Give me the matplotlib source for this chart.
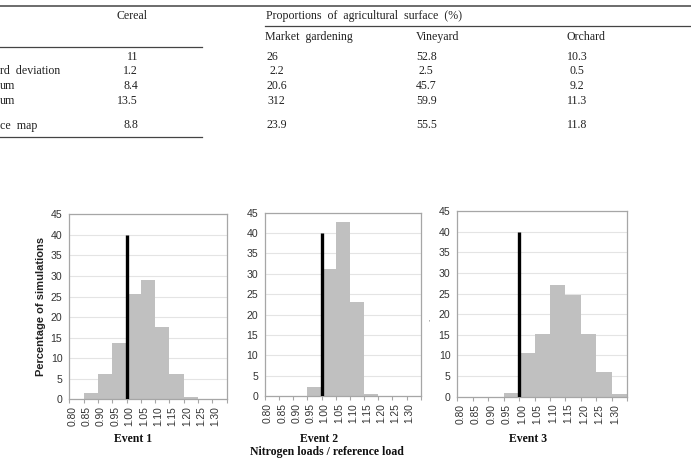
import numpy as np
import matplotlib
matplotlib.use("Agg")
import matplotlib.pyplot as plt
from matplotlib.transforms import ScaledTranslation

# ---------------- data ----------------
bin_edges = [0.80, 0.85, 0.90, 0.95, 1.00, 1.05, 1.10, 1.15, 1.20, 1.25, 1.30]
tick_labels = ["0.80", "0.85", "0.90", "0.95", "1.00", "1.05", "1.10", "1.15", "1.20", "1.25", "1.30"]
event1 = [0, 1.6, 6.1, 13.6, 25.6, 29.1, 17.7, 6.1, 0.6, 0, 0]
event2 = [0, 0, 0, 2.3, 31.2, 42.6, 23.0, 0.4, 0, 0, 0]
event3 = [0, 0, 0, 1.0, 10.5, 15.1, 27.1, 24.6, 15.1, 6.1, 0.6]
event_names = ["Event 1", "Event 2", "Event 3"]
reference_value = 1.00
reference_height = 40

table_cols = ["Market  gardening", "Vineyard", "Orchard"]
table_rows = ["", "rd  deviation", "um", "um", "ce  map"]
cereal = ["11", "1.2", "8.4", "13.5", "8.8"]
market = ["26", "2.2", "20.6", "312", "23.9"]
vineyard = ["52.8", "2.5", "45.7", "59.9", "55.5"]
orchard = ["10.3", "0.5", "9.2", "11.3", "11.8"]

W, H = 691, 459
fig = plt.figure(figsize=(W / 100, H / 100), dpi=100)

# ---------------- table fragment (pixel overlay) ----------------
ov = fig.add_axes([0, 0, 1, 1])
ov.set_xlim(0, W)
ov.set_ylim(H, 0)
ov.axis("off")
serif = "Liberation Serif"
tcol = "#222222"
fs = 8.6
rule = "#444444"
ov.plot([0, W], [6, 6], color=rule, lw=1.1)
ov.plot([265, W], [26, 26], color=rule, lw=0.9)
ov.plot([0, 202], [46.5, 46.5], color=rule, lw=0.9)
ov.plot([0, 202], [136.5, 136.5], color=rule, lw=0.9)

ov.text(132, 16, "Cereal", family=serif, fontsize=fs, color=tcol, ha="center", va="center")
ov.text(266, 16, "Proportions  of  agricultural  surface  (%)", family=serif, fontsize=fs,
        color=tcol, ha="left", va="center")
for x, c in zip([265, 416, 567], table_cols):
    ov.text(x, 37, c, family=serif, fontsize=fs, color=tcol, ha="left", va="center")

row_y = [57, 71, 86, 101.5, 125.5]
for i, y in enumerate(row_y):
    ov.text(0, y, table_rows[i], family=serif, fontsize=fs, color=tcol, ha="left", va="center")
    ov.text(138, y, cereal[i], family=serif, fontsize=fs, color=tcol, ha="right", va="center")
    xs = [267, 416, 567]
    for x, col in zip(xs, [market, vineyard, orchard]):
        dx = 3 if len(col[i]) == 3 and "." in col[i] and col[i][0] != "1" else 0
        ov.text(x + dx, y, col[i], family=serif, fontsize=fs, color=tcol, ha="left", va="center")

# ---------------- histograms ----------------
panels = [
    (69.3, 226.7, 214.3, 399.3, event1),
    (265.0, 420.7, 212.7, 396.0, event2),
    (457.3, 627.3, 211.0, 396.7, event3),
]
bar_color = "#c0c0c0"
spine_color = "#a6a6a6"
grid_color = "#e4e4e4"
sans = "Liberation Sans"
axes = []
for k, (L, R, T, B, vals) in enumerate(panels):
    ax = fig.add_axes([L / W, (H - B) / H, (R - L) / W, (B - T) / H])
    axes.append(ax)
    ax.bar(bin_edges, vals, width=0.05, align="edge", color=bar_color, edgecolor="none", zorder=2)
    ax.plot([reference_value, reference_value], [0, reference_height], color="black", lw=2.4,
            solid_capstyle="butt", zorder=3)
    ax.set_xlim(0.80, 1.35)
    ax.set_ylim(0, 45)
    ax.set_yticks(np.arange(0, 46, 5))
    ax.set_yticklabels([str(v) for v in range(0, 46, 5)], family=sans, fontsize=7.6, color="#333333")
    ax.set_xticks(bin_edges + [1.35])
    ax.set_xticklabels(tick_labels + [""], rotation=90, family=sans, fontsize=7.4, color="#333333")
    ax.yaxis.grid(True, color=grid_color, lw=0.8, zorder=0)
    ax.set_axisbelow(True)
    for s in ax.spines.values():
        s.set_color(spine_color)
        s.set_linewidth(0.9)
    ax.tick_params(axis="y", length=0, pad=5)
    ax.tick_params(axis="x", length=3, color=spine_color, pad=2)
    off = ScaledTranslation(3 / 100, 0, fig.dpi_scale_trans)
    for lab in ax.get_xticklabels():
        lab.set_transform(lab.get_transform() + off)

axes[0].set_ylabel("Percentage of simulations", family=sans, fontweight="bold", fontsize=8.0,
                   color="#222222", labelpad=3)

# overlay texts in pixel coordinates
ov.text(130.5, 227, "Reference", family=serif, fontweight="bold", fontsize=11.5,
        color="#111111", ha="center", va="center", zorder=10)
for x, name in zip([133.5, 319, 528.5], event_names):
    ov.text(x, 439, name, family=serif, fontweight="bold", fontsize=8.5, color="#111111",
            ha="center", va="center")
ov.text(327, 452, "Nitrogen loads / reference load", family=serif, fontweight="bold",
        fontsize=8.5, color="#111111", ha="center", va="center")
ov.text(429, 323, "'", family=sans, fontsize=5, color="#666666", ha="center", va="center")

fig.savefig("out.png", dpi=100)
